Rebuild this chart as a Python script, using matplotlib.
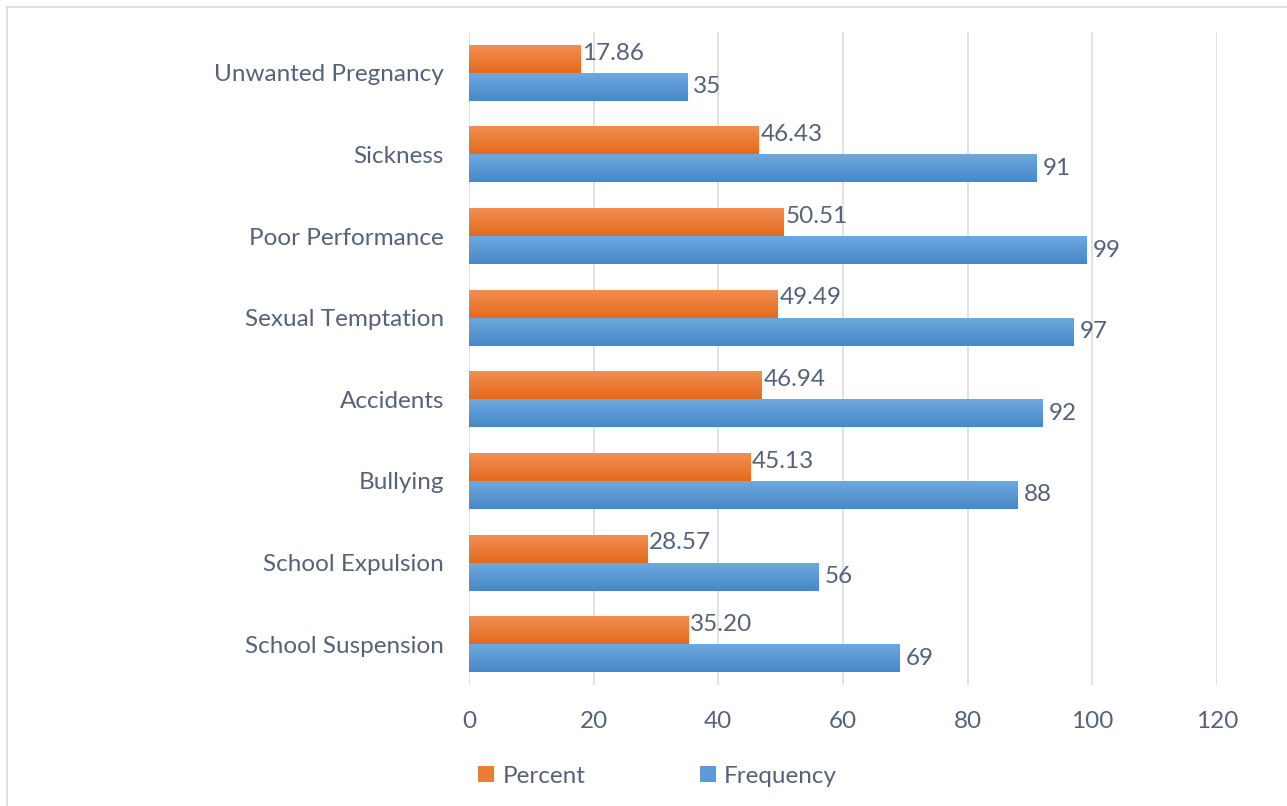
import numpy as np
import matplotlib.pyplot as plt
from matplotlib.lines import Line2D
from matplotlib.patches import Patch

plt.rcParams["font.family"] = ["Lato", "DejaVu Sans"]

# 数据（从上到下）
categories = ["Unwanted Pregnancy", "Sickness", "Poor Performance", "Sexual Temptation",
              "Accidents", "Bullying", "School Expulsion", "School Suspension"]
percent = [17.86, 46.43, 50.51, 49.49, 46.94, 45.13, 28.57, 35.20]
frequency = [35, 91, 99, 97, 92, 88, 56, 69]
percent_labels = ["17.86", "46.43", "50.51", "49.49", "46.94", "45.13", "28.57", "35.20"]
frequency_labels = ["35", "91", "99", "97", "92", "88", "56", "69"]
x_ticks = [0, 20, 40, 60, 80, 100, 120]

text_color = "#56627a"
orange = "#ED7D31"
blue = "#5B9BD5"
fs = 17.5


def gradient_fill(ax, bars, top_color, bottom_color):
    # 给每个条形画一个上浅下深的渐变
    grad = np.linspace(0, 1, 64).reshape(-1, 1)
    cmap = plt.matplotlib.colors.LinearSegmentedColormap.from_list("g", [top_color, bottom_color])
    for b in bars:
        x0, y0 = b.get_x(), b.get_y()
        w, h = b.get_width(), b.get_height()
        im = ax.imshow(grad, extent=[x0, x0 + w, y0, y0 + h], cmap=cmap, aspect="auto",
                       origin="upper", zorder=3)
        im.set_clip_path(b)
        b.set_alpha(0)


fig = plt.figure(figsize=(12.87, 8.06), dpi=100)
ax = fig.add_axes([0.3644, 0.1501, 0.5812, 0.8102])

n = len(categories)
y = np.arange(n)[::-1]  # 顶部是第一个类别
h = 0.343

bars_p = ax.barh(y + h / 2, percent, height=h, color=orange, zorder=2)
bars_f = ax.barh(y - h / 2, frequency, height=h, color=blue, zorder=2)
gradient_fill(ax, bars_p, "#F28E52", "#E46A1E")
gradient_fill(ax, bars_f, "#6EA8DE", "#4788C8")

for b, lab in zip(bars_p, percent_labels):
    ax.text(b.get_width() + 0.3, b.get_y() + b.get_height() / 2 + 0.07, lab,
            va="center", ha="left", fontsize=fs, color=text_color)
for b, lab in zip(bars_f, frequency_labels):
    ax.text(b.get_width() + 1.0, b.get_y() + b.get_height() / 2, lab,
            va="center", ha="left", fontsize=fs, color=text_color)

ax.set_xlim(0, 120)
ax.set_ylim(-0.5, n - 0.5)
ax.set_xticks(x_ticks)
ax.set_xticklabels([str(t) for t in x_ticks])
ax.set_yticks(y)
ax.set_yticklabels(categories)
ax.tick_params(axis="both", length=0, labelsize=fs, labelcolor=text_color)
ax.tick_params(axis="y", pad=18)
ax.tick_params(axis="x", pad=19)
ax.grid(axis="x", color="#D9DDE3", linewidth=1.2, zorder=0)
for s in ax.spines.values():
    s.set_visible(False)

handles = [Patch(facecolor=orange), Patch(facecolor=blue)]
fig.legend(handles, ["Percent", "Frequency"], loc="center", bbox_to_anchor=(0.511, 0.037),
           ncol=2, frameon=False, fontsize=fs, labelcolor=text_color,
           handlelength=0.65, handleheight=0.65, handletextpad=0.35, columnspacing=4.7)

# 图表外框（只有上边和左边可见）
fig.add_artist(Line2D([7 / 1287, 7 / 1287], [0, 1 - 7 / 806], transform=fig.transFigure,
                      color="#D9D9D9", linewidth=1.2))
fig.add_artist(Line2D([7 / 1287, 1], [1 - 7 / 806, 1 - 7 / 806], transform=fig.transFigure,
                      color="#D9D9D9", linewidth=1.2))

fig.savefig("out.png", dpi=100)
